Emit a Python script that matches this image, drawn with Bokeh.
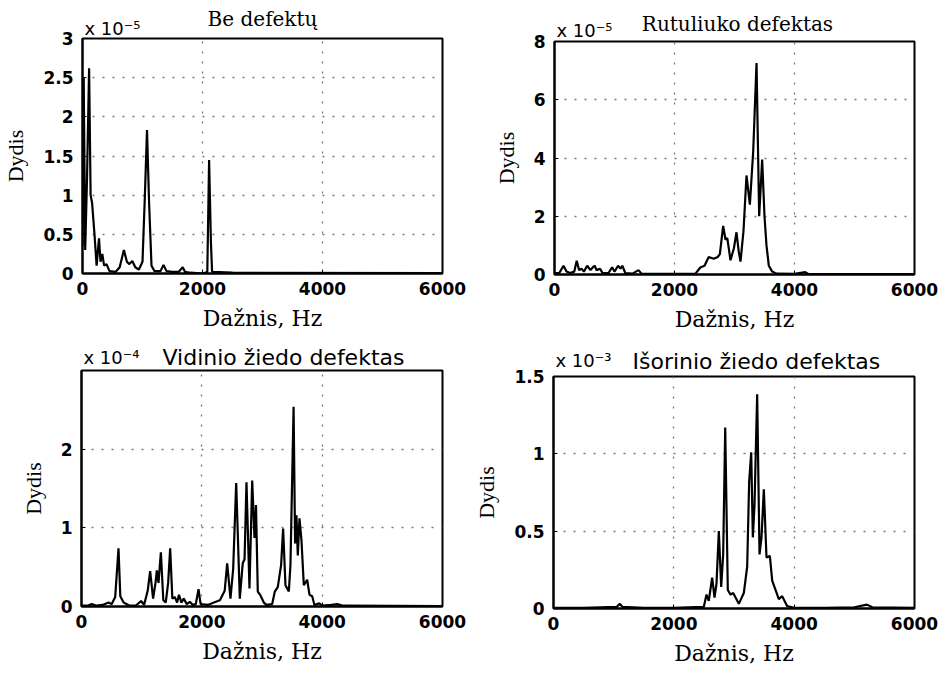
from bokeh.plotting import figure
from bokeh.models import FixedTicker, CustomJSTickFormatter, Label
from bokeh.layouts import column, row
from bokeh.embed import file_html
from bokeh.resources import INLINE

# ---------------- data (values in displayed units) ----------------
x_ticks = [0, 2000, 4000, 6000]

# Be defektu  (x 1e-5)
be_freq = [0, 20, 45, 75, 110, 135, 160, 200, 235, 275, 300, 330, 360, 400, 450, 550, 620, 690, 740,
           780, 830, 880, 940, 1000, 1040, 1075, 1110, 1150, 1200, 1300, 1350, 1400, 1500, 1600, 1670,
           1710, 1800, 2000, 2080, 2110, 2140, 2160, 2500, 6000]
be_val = [0.35, 2.5, 0.3, 1.2, 2.62, 1.0, 0.9, 0.5, 0.1, 0.45, 0.15, 0.25, 0.1, 0.12, 0.03, 0.02, 0.08,
          0.3, 0.15, 0.12, 0.16, 0.08, 0.05, 0.15, 1.0, 1.83, 0.9, 0.1, 0.03, 0.03, 0.11, 0.03, 0.02,
          0.02, 0.08, 0.02, 0.01, 0.0, 0.02, 1.45, 0.4, 0.02, 0.01, 0.005]
be_yticks = [0, 0.5, 1, 1.5, 2, 2.5, 3]

# Rutuliuko defektas (x 1e-5)
rut_freq = [0, 80, 150, 200, 260, 330, 370, 410, 450, 490, 545, 600, 640, 670, 700, 760, 800, 900, 960,
            1000, 1060, 1100, 1130, 1180, 1300, 1400, 1450, 1600, 2000, 2350, 2430, 2500, 2570, 2655,
            2720, 2756, 2811, 2850, 2880, 2933, 2990, 3033, 3070, 3100, 3150, 3200, 3256, 3311, 3367,
            3411, 3461, 3500, 3533, 3572, 3628, 3700, 4000, 4180, 4230, 6000]
rut_val = [0.05, 0.05, 0.3, 0.1, 0.05, 0.1, 0.47, 0.15, 0.2, 0.1, 0.3, 0.15, 0.25, 0.3, 0.15, 0.2, 0.05,
           0.05, 0.25, 0.1, 0.3, 0.2, 0.3, 0.05, 0.03, 0.15, 0.03, 0.02, 0.02, 0.03, 0.24, 0.3, 0.6,
           0.54, 0.6, 0.7, 1.67, 1.2, 1.25, 0.49, 0.9, 1.45, 0.8, 0.44, 1.5, 3.4, 2.4, 4.2, 7.26, 2.0,
           3.95, 2.0, 1.0, 0.3, 0.1, 0.03, 0.02, 0.08, 0.02, 0.01]
rut_yticks = [0, 2, 4, 6, 8]

# Vidinio ziedo defektas (x 1e-4)
vid_freq = [0, 100, 170, 250, 350, 450, 500, 560, 615, 645, 700, 800, 900, 990, 1040, 1100, 1141, 1190,
            1230, 1252, 1280, 1319, 1360, 1400, 1440, 1474, 1510, 1550, 1590, 1620, 1660, 1700, 1750,
            1800, 1850, 1900, 1945, 1980, 2100, 2200, 2300, 2380, 2421, 2476, 2521, 2571, 2631, 2680,
            2710, 2742, 2792, 2837, 2875, 2900, 2930, 2975, 3030, 3075, 3169, 3213, 3263, 3318, 3351,
            3390, 3446, 3473, 3525, 3550, 3573, 3595, 3623, 3656, 3695, 3751, 3789, 3834, 3872, 3950,
            4000, 4150, 4250, 4350, 6000]
vid_val = [0.01, 0.01, 0.03, 0.01, 0.02, 0.05, 0.03, 0.12, 0.74, 0.13, 0.05, 0.01, 0.01, 0.07, 0.02,
           0.2, 0.45, 0.1, 0.3, 0.46, 0.3, 0.69, 0.08, 0.05, 0.3, 0.74, 0.1, 0.12, 0.05, 0.15, 0.05,
           0.1, 0.03, 0.06, 0.02, 0.03, 0.22, 0.03, 0.02, 0.05, 0.08, 0.2, 0.55, 0.1, 0.48, 1.57, 0.1,
           0.55, 0.6, 1.58, 0.23, 1.6, 0.87, 1.29, 0.19, 0.14, 0.05, 0.02, 0.03, 0.19, 0.25, 0.53,
           0.99, 0.27, 0.19, 0.53, 2.54, 0.8, 1.16, 0.65, 1.12, 0.84, 0.27, 0.34, 0.15, 0.13, 0.02,
           0.04, 0.01, 0.02, 0.03, 0.01, 0.005]
vid_yticks = [0, 1, 2]

# Isorinio ziedo defektas (x 1e-3)
iso_freq = [0, 500, 1050, 1100, 1150, 1500, 2000, 2498, 2543, 2581, 2637, 2676, 2709, 2748, 2787, 2820,
            2854, 2897, 2942, 2986, 3080, 3163, 3219, 3252, 3286, 3313, 3341, 3385, 3424, 3457, 3496,
            3540, 3596, 3635, 3690, 3745, 3801, 3884, 4000, 4500, 5000, 5210, 5300, 6000]
iso_val = [0.005, 0.005, 0.01, 0.03, 0.01, 0.005, 0.005, 0.01, 0.09, 0.05, 0.2, 0.07, 0.16, 0.5, 0.14,
           0.35, 1.17, 0.12, 0.09, 0.1, 0.03, 0.1, 0.27, 0.82, 1.01, 0.46, 0.67, 1.385, 0.35, 0.46,
           0.77, 0.33, 0.34, 0.18, 0.12, 0.06, 0.08, 0.015, 0.005, 0.005, 0.008, 0.025, 0.008, 0.005]
iso_yticks = [0, 0.5, 1, 1.5]

# shift = how far the figure is pulled up (the stacked header labels are taller than the wanted top border)
panels = [
    dict(freq=be_freq, val=be_val, yticks=be_yticks, ymax=3, title="Be defektų", mult="x 10⁻⁵",
         serif=True, w=471, h=344, shift=7, border=(29, 64, 81),
         t_x=3000, t_xo=0, t_align="center", t_yo=20, m_yo=10),
    dict(freq=rut_freq, val=rut_val, yticks=rut_yticks, ymax=8, title="Rutuliuko defektas", mult="x 10⁻⁵",
         serif=True, w=472, h=342, shift=4, border=(29, 62, 83),
         t_x=3000, t_xo=3, t_align="center", t_yo=18, m_yo=11),
    dict(freq=vid_freq, val=vid_val, yticks=vid_yticks, ymax=3, title="Vidinio žiedo defektas", mult="x 10⁻⁴",
         serif=False, w=471, h=350, shift=14, border=(29, 68, 81),
         t_x=0, t_xo=81, t_align="left", t_yo=13, m_yo=13),
    dict(freq=iso_freq, val=iso_val, yticks=iso_yticks, ymax=1.5, title="Išorinio žiedo defektas", mult="x 10⁻³",
         serif=False, w=472, h=346, shift=8, border=(29, 64, 82),
         t_x=0, t_xo=79, t_align="left", t_yo=15, m_yo=16),
]

figs = []
for d in panels:
    right, bottom, left = d["border"]
    p = figure(width=d["w"], height=d["h"], x_range=(0, 6000), y_range=(0, d["ymax"]),
               output_backend="svg", toolbar_location=None,
               min_border_top=0, min_border_right=right, min_border_bottom=bottom, min_border_left=left,
               margin=(-d["shift"], 0, 0, 0))
    p.line(d["freq"], d["val"], line_color="black", line_width=2.2)

    p.outline_line_color = "black"
    p.outline_line_width = 2
    p.background_fill_color = "white"
    p.border_fill_alpha = 0

    p.xaxis.ticker = FixedTicker(ticks=x_ticks)
    p.yaxis.ticker = FixedTicker(ticks=d["yticks"])
    p.xaxis.formatter = CustomJSTickFormatter(code="return tick.toString();")
    p.yaxis.formatter = CustomJSTickFormatter(code="return tick.toString();")
    for ax in (p.xaxis[0], p.yaxis[0]):
        ax.axis_line_width = 2
        ax.axis_line_color = "black"
        ax.major_tick_in = 4
        ax.major_tick_out = 0
        ax.minor_tick_line_color = None
        ax.major_label_text_font = "DejaVu Sans"
        ax.major_label_text_font_style = "bold"
        ax.major_label_text_font_size = "17px"
        ax.major_label_text_color = "black"
        ax.axis_label_text_font_style = "normal"
        ax.axis_label_text_color = "black"
    p.xaxis.major_label_standoff = 8
    p.yaxis.major_label_standoff = 9
    p.xaxis.axis_label = "Dažnis, Hz"
    p.xaxis.axis_label_text_font = "DejaVu Serif"
    p.xaxis.axis_label_text_font_size = "22px"
    p.xaxis.axis_label_standoff = 8
    p.yaxis.axis_label = "Dydis"
    p.yaxis.axis_label_text_font = "Liberation Serif"
    p.yaxis.axis_label_text_font_size = "22px"
    p.yaxis.axis_label_standoff = 12

    p.xgrid.ticker = FixedTicker(ticks=x_ticks)
    p.ygrid.ticker = FixedTicker(ticks=d["yticks"])
    for g in (p.xgrid[0], p.ygrid[0]):
        g.grid_line_color = "#777777"
        g.grid_line_dash = "2 8"
        g.grid_line_width = 1.3

    p.add_layout(Label(x=d["t_x"], y=d["ymax"], x_offset=d["t_xo"], y_offset=d["t_yo"], text=d["title"],
                       text_align=d["t_align"], text_baseline="alphabetic",
                       text_font="DejaVu Serif" if d["serif"] else "DejaVu Sans",
                       text_font_size="20px" if d["serif"] else "22px", text_color="black"), "above")
    p.add_layout(Label(x=0, y=d["ymax"], x_offset=2, y_offset=d["m_yo"], text=d["mult"],
                       text_align="left", text_baseline="alphabetic",
                       text_font="DejaVu Sans", text_font_size="18px", text_color="black"), "above")
    figs.append(p)

layout = column(row(figs[0], figs[1]), row(figs[2], figs[3]))
open("out.html", "w").write(file_html(layout, INLINE))
